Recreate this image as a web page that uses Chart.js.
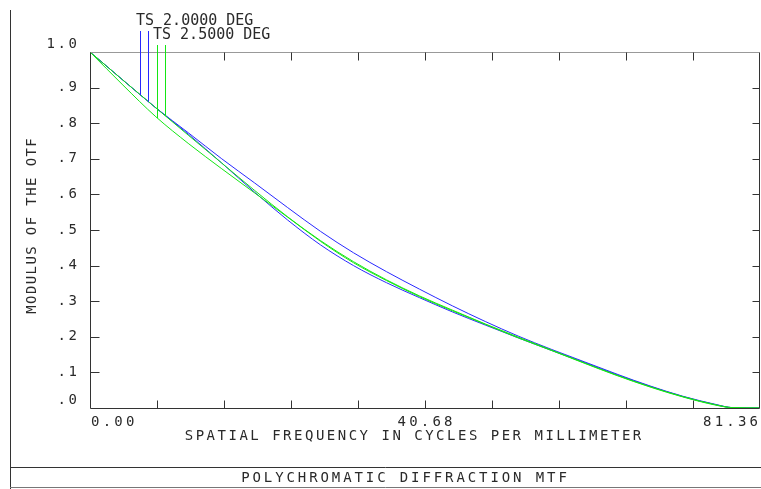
<!DOCTYPE html>
<html>
<head>
<meta charset="utf-8">
<script src="https://cdn.jsdelivr.net/npm/chart.js@4/dist/chart.umd.min.js"></script>
<style>
  html, body { margin: 0; padding: 0; background: #fff; }
  #mtf { display: block; }
</style>
</head>
<body>
<canvas id="mtf" width="761" height="489"></canvas>
<script>
// spatial frequency, cycles/mm
const freq = [0, 4, 8, 12, 16, 20, 24, 28, 32, 36, 40, 44, 48, 52, 56, 60, 64, 68, 72, 76, 78, 81.36];
// modulus of the OTF
const mtf20T = [1, 0.921, 0.843, 0.772, 0.700, 0.632, 0.563, 0.496, 0.436, 0.383, 0.334, 0.287, 0.243, 0.202, 0.165, 0.130, 0.095, 0.062, 0.033, 0.010, 0.001, 0];
const mtf20S = [1, 0.921, 0.843, 0.768, 0.688, 0.606, 0.528, 0.458, 0.400, 0.352, 0.310, 0.270, 0.233, 0.197, 0.162, 0.128, 0.093, 0.061, 0.032, 0.009, 0.001, 0];
const mtf25T = [1, 0.907, 0.818, 0.742, 0.672, 0.604, 0.536, 0.468, 0.408, 0.358, 0.313, 0.273, 0.235, 0.197, 0.162, 0.126, 0.091, 0.059, 0.031, 0.008, 0.001, 0];
const mtf25S = [1, 0.921, 0.843, 0.765, 0.688, 0.611, 0.537, 0.470, 0.411, 0.360, 0.315, 0.275, 0.236, 0.199, 0.163, 0.127, 0.092, 0.060, 0.032, 0.009, 0.001, 0];

const yTickValues = [0, 0.1, 0.2, 0.3, 0.4, 0.5, 0.6, 0.7, 0.8, 0.9, 1.0];
const yTickLabels = ['.0', '.1', '.2', '.3', '.4', '.5', '.6', '.7', '.8', '.9', '1.0'];
const xTickValues = [0, 40.68, 81.36];
const xTickLabels = ['0.00', '40.68', '81.36'];
const xDivisions = 10;

const blue = 'rgb(40,40,255)';
const green = 'rgb(20,230,20)';
const FONT = '"DejaVu Sans Mono", "Liberation Mono", monospace';

function pts(arr) {
    return freq.map((f, i) => ({x: f, y: arr[i]}));
}

function valueAt(arr, f) {
    for (let i = 1; i < freq.length; i++) {
        if (f <= freq[i]) {
            const t = (f - freq[i - 1]) / (freq[i] - freq[i - 1]);
            return arr[i - 1] + t * (arr[i] - arr[i - 1]);
        }
    }
    return arr[arr.length - 1];
}

// text with extra space between characters
function spaced(ctx, s, x, y, align, gap) {
    const chars = [...s];
    const ws = chars.map(c => ctx.measureText(c).width);
    const total = ws.reduce((p, w) => p + w, 0) + gap * (chars.length - 1);
    let cx = align === 'center' ? x - total / 2 : align === 'right' ? x - total : x;
    chars.forEach((c, i) => {
        ctx.fillText(c, cx, y);
        cx += ws[i] + gap;
    });
}

const frame = {
    id: 'frame',
    afterDraw(chart) {
        const ctx = chart.ctx;
        const a = chart.chartArea;
        const xs = chart.scales.x;
        const ys = chart.scales.y;
        ctx.save();
        ctx.lineWidth = 1;

        // outer page frame
        ctx.strokeStyle = '#333';
        ctx.beginPath();
        ctx.moveTo(10.5, 10);
        ctx.lineTo(10.5, 489);
        ctx.moveTo(10, 467.5);
        ctx.lineTo(761, 467.5);
        ctx.stroke();
        ctx.strokeStyle = '#777';
        ctx.beginPath();
        ctx.moveTo(10, 487.5);
        ctx.lineTo(761, 487.5);
        ctx.stroke();

        // plot box
        const L = Math.round(a.left) + 0.5, R = Math.round(a.right) - 0.5;
        const T = Math.round(a.top) + 0.5, B = Math.round(a.bottom) + 0.5;
        ctx.strokeStyle = '#999';
        ctx.beginPath();
        ctx.moveTo(L, T);
        ctx.lineTo(R, T);
        ctx.stroke();
        ctx.strokeStyle = '#333';
        ctx.beginPath();
        ctx.moveTo(L, T);
        ctx.lineTo(L, B);
        ctx.lineTo(R, B);
        ctx.lineTo(R, T);
        ctx.stroke();

        // inward ticks
        ctx.beginPath();
        for (let i = 1; i < xDivisions; i++) {
            const px = Math.round(xs.getPixelForValue(i * xs.max / xDivisions)) + 0.5;
            ctx.moveTo(px, B);
            ctx.lineTo(px, B - 8);
            ctx.moveTo(px, T);
            ctx.lineTo(px, T + 8);
        }
        yTickValues.slice(1, -1).forEach(v => {
            const py = Math.round(ys.getPixelForValue(v)) + 0.5;
            ctx.moveTo(L, py);
            ctx.lineTo(L + 9, py);
            ctx.moveTo(R, py);
            ctx.lineTo(R - 7, py);
        });
        ctx.stroke();

        // tick labels
        ctx.fillStyle = '#2a2a2a';
        ctx.textAlign = 'left';
        ctx.textBaseline = 'middle';
        ctx.font = '14px ' + FONT;
        yTickValues.forEach((v, i) => {
            let py = ys.getPixelForValue(v);
            if (i === 0 || i === yTickValues.length - 1) py -= 8;
            spaced(ctx, yTickLabels[i], 77, py, 'right', 2.6);
        });
        xTickValues.forEach((v, i) => {
            const px = xs.getPixelForValue(v);
            const align = i === 0 ? 'left' : i === xTickValues.length - 1 ? 'right' : 'center';
            const off = i === 0 ? 1 : i === xTickValues.length - 1 ? -2 : 0;
            spaced(ctx, xTickLabels[i], px + off, 422, align, 3.2);
        });

        // axis titles
        spaced(ctx, 'SPATIAL FREQUENCY IN CYCLES PER MILLIMETER', 413, 436, 'center', 2.5);
        spaced(ctx, 'POLYCHROMATIC DIFFRACTION MTF', 404, 478, 'center', 2.9);
        ctx.save();
        ctx.translate(32, 226);
        ctx.rotate(-Math.PI / 2);
        spaced(ctx, 'MODULUS OF THE OTF', 0, 0, 'center', 1.4);
        ctx.restore();

        // legend
        ctx.font = '15px ' + FONT;
        ctx.fillText('TS 2.0000 DEG', 136, 21);
        ctx.fillText('TS 2.5000 DEG', 153, 35);
        const marks = [
            {px: 140.5, top: 31, arr: mtf20T, color: blue},
            {px: 148.5, top: 31, arr: mtf20S, color: blue},
            {px: 157.5, top: 45, arr: mtf25T, color: green},
            {px: 165.5, top: 45, arr: mtf25S, color: green}
        ];
        marks.forEach(m => {
            const f = xs.getValueForPixel(m.px);
            const py = ys.getPixelForValue(valueAt(m.arr, f));
            ctx.strokeStyle = m.color;
            ctx.beginPath();
            ctx.moveTo(m.px, m.top);
            ctx.lineTo(m.px, py);
            ctx.stroke();
        });
        ctx.restore();
    }
};

const line = (label, arr, color, order) => ({
    label: label,
    data: pts(arr),
    borderColor: color,
    borderWidth: 1,
    pointRadius: 0,
    fill: false,
    cubicInterpolationMode: 'monotone',
    order: order
});

new Chart(document.getElementById('mtf'), {
    type: 'line',
    data: {
        datasets: [
            line('T 2.0000 DEG', mtf20T, blue, 1),
            line('S 2.0000 DEG', mtf20S, blue, 1),
            line('T 2.5000 DEG', mtf25T, green, 0),
            line('S 2.5000 DEG', mtf25S, green, 0)
        ]
    },
    options: {
        responsive: false,
        animation: false,
        layout: {padding: {left: 90, top: 52, right: 1, bottom: 81}},
        plugins: {legend: {display: false}, tooltip: {enabled: false}},
        scales: {
            x: {type: 'linear', min: 0, max: 81.36, display: false},
            y: {min: 0, max: 1, display: false}
        }
    },
    plugins: [frame]
});
</script>
</body>
</html>
